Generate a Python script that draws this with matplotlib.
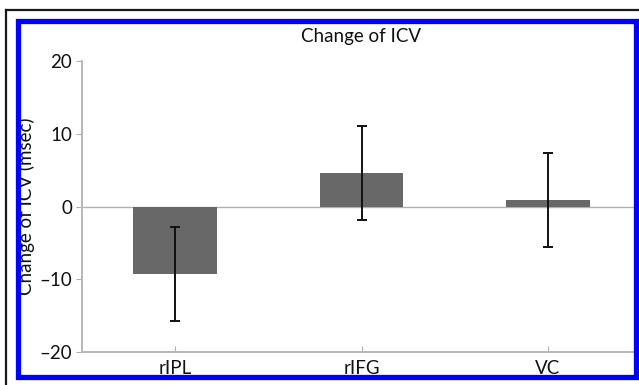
import matplotlib
matplotlib.use("Agg")
import matplotlib.pyplot as plt
from matplotlib.lines import Line2D
from matplotlib.patches import Rectangle

categories = ["rIPL", "rIFG", "VC"]
means = [-9.3, 4.6, 0.85]
errors = [6.5, 6.5, 6.45]
yticks = [-20, -10, 0, 10, 20]
ytick_labels = ["\u201320", "\u201310", "0", "10", "20"]

W, H = 639, 385
plt.rcParams['font.family'] = ['Lato', 'DejaVu Sans']
fig = plt.figure(figsize=(W / 100, H / 100), dpi=100)

def fx(px):
    return px / W

def fy(py):
    return 1 - py / H

ax = fig.add_axes([fx(82), fy(352), fx(641) - fx(82), fy(61) - fy(352)])
x = list(range(1, len(categories) + 1))
ax.bar(x, means, width=0.45, color="#686868", edgecolor="none", zorder=2)
ax.errorbar(x, means, yerr=errors, fmt="none", ecolor="#111111",
            elinewidth=1.4, capsize=3.5, capthick=1.4, zorder=3)
ax.axhline(0, color="#b0b0b0", lw=1.0, zorder=1)
ax.set_xlim(0.5, 3.5)
ax.set_ylim(-20, 20)
ax.set_yticks(yticks)
ax.set_yticklabels(ytick_labels)
ax.set_xticks(x)
ax.set_xticklabels(categories)
for s in ["top", "right"]:
    ax.spines[s].set_visible(False)
for s in ["left", "bottom"]:
    ax.spines[s].set_color("#b8b8b8")
    ax.spines[s].set_linewidth(1.4)
ax.tick_params(axis="y", direction="out", length=4, width=0.8,
               color="#b0b0b0", labelsize=13.5, labelcolor="#111111", pad=3)
ax.tick_params(axis="x", direction="in", length=4, width=0.8,
               color="#b0b0b0", labelsize=13.5, labelcolor="#111111", pad=6)
ax.set_ylabel("Change of ICV (msec)", fontsize=13.5, color="#111111")
ax.yaxis.set_label_coords(-0.084, 0.5)
ax.set_title("Change of ICV", fontsize=13.5, color="#111111", pad=14)

# black outer lines
fig.add_artist(Line2D([fx(6), fx(6)], [fy(10), 0], transform=fig.transFigure,
                      color="#1a1a1a", lw=1.6, zorder=10))
fig.add_artist(Line2D([fx(6), 1], [fy(10), fy(10)], transform=fig.transFigure,
                      color="#1a1a1a", lw=1.6, zorder=10))
# blue frame
fig.add_artist(Rectangle((fx(17.5), fy(377)), fx(636) - fx(17.5), fy(20.5) - fy(377),
                         transform=fig.transFigure, fill=False, edgecolor="#0000ff",
                         lw=3.8, zorder=11))

fig.savefig("out.png", dpi=100)
